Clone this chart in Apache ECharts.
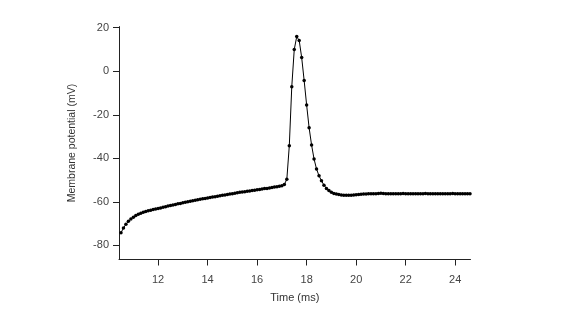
<!DOCTYPE html>
<html>
<head>
<meta charset="utf-8">
<script src="https://cdn.jsdelivr.net/npm/echarts@6/dist/echarts.min.js"></script>
<style>html,body{margin:0;padding:0;background:#fff;}#c{width:567px;height:319px;}</style>
</head>
<body>
<div id="c"></div>
<script>
// sampling grid (ms)
const tStart = 10.5;
const tStep = 0.1;
// membrane potential (mV), one value per sample
const voltage = [
  -74.2, -72.0, -70.3, -68.9, -67.9, -67.0, -66.3, -65.7, -65.2, -64.8,
  -64.4, -64.1, -63.8, -63.5, -63.3, -63.0, -62.8, -62.5, -62.2, -61.9,
  -61.7, -61.4, -61.2, -60.9, -60.7, -60.4, -60.2, -59.9, -59.7, -59.5,
  -59.2, -59.0, -58.8, -58.6, -58.4, -58.2, -58.0, -57.8, -57.6, -57.4,
  -57.2, -57.0, -56.8, -56.6, -56.4, -56.2, -56.0, -55.8, -55.6, -55.5,
  -55.3, -55.1, -55.0, -54.8, -54.6, -54.4, -54.3, -54.1, -53.9, -53.8,
  -53.6, -53.4, -53.2, -53.0, -52.8, -52.6, -52.0, -49.6, -34.2, -7.1,
  10.0, 15.9, 14.1, 6.3, -4.3, -15.5, -25.9, -33.9, -40.3, -44.9,
  -48.0, -50.3, -52.3, -53.8, -54.8, -55.6, -56.1, -56.4, -56.6, -56.8,
  -56.9, -56.9, -57.0, -56.9, -56.8, -56.7, -56.6, -56.5, -56.4, -56.4,
  -56.3, -56.3, -56.2, -56.2, -56.1, -56.0, -56.1, -56.2, -56.2, -56.3,
  -56.2, -56.2, -56.3, -56.2, -56.1, -56.2, -56.2, -56.3, -56.2, -56.2,
  -56.3, -56.2, -56.2, -56.1, -56.2, -56.3, -56.2, -56.2, -56.3, -56.2,
  -56.2, -56.3, -56.2, -56.2, -56.1, -56.2, -56.2, -56.2, -56.3, -56.2,
  -56.2, -56.2
];
const xTicks = [12, 14, 16, 18, 20, 22, 24];
const yTicks = [-80, -60, -40, -20, 0, 20];
const xLabel = 'Time (ms)';
const yLabel = 'Membrane potential (mV)';

const points = voltage.map((v, i) => [+(tStart + i * tStep).toFixed(2), v]);

const chart = echarts.init(document.getElementById('c'), null, {renderer: 'canvas'});
const font = 'Liberation Sans, Arial, sans-serif';
chart.setOption({
  animation: false,
  backgroundColor: '#fff',
  grid: {left: 119, right: 96.5, top: 26.6, bottom: 59.5, containLabel: false},
  xAxis: {
    type: 'value', min: 10.42, max: 24.62,
    name: xLabel, nameLocation: 'middle', nameGap: 33,
    nameTextStyle: {color: '#333', fontSize: 11, fontFamily: font},
    axisLine: {show: true, onZero: false, lineStyle: {color: '#222', width: 1}},
    axisTick: {show: true, length: 6, inside: false, customValues: xTicks, lineStyle: {color: '#222'}},
    axisLabel: {show: true, customValues: xTicks, margin: 15, color: '#444', fontSize: 11, fontFamily: font},
    splitLine: {show: false}
  },
  yAxis: {
    type: 'value', min: -86.45, max: 20.5,
    name: yLabel, nameLocation: 'middle', nameGap: 41, nameRotate: 90,
    nameTextStyle: {color: '#333', fontSize: 10.5, fontFamily: font},
    axisLine: {show: true, onZero: false, lineStyle: {color: '#222', width: 1}},
    axisTick: {show: true, length: 6, inside: false, customValues: yTicks, lineStyle: {color: '#222'}},
    axisLabel: {show: true, customValues: yTicks, margin: 10, color: '#444', fontSize: 11, fontFamily: font},
    splitLine: {show: false}
  },
  series: [{
    type: 'line',
    data: points,
    showSymbol: true,
    symbol: 'circle',
    symbolSize: 3.5,
    itemStyle: {color: '#000'},
    lineStyle: {color: '#000', width: 1},
    clip: false
  }]
});
</script>
</body>
</html>
